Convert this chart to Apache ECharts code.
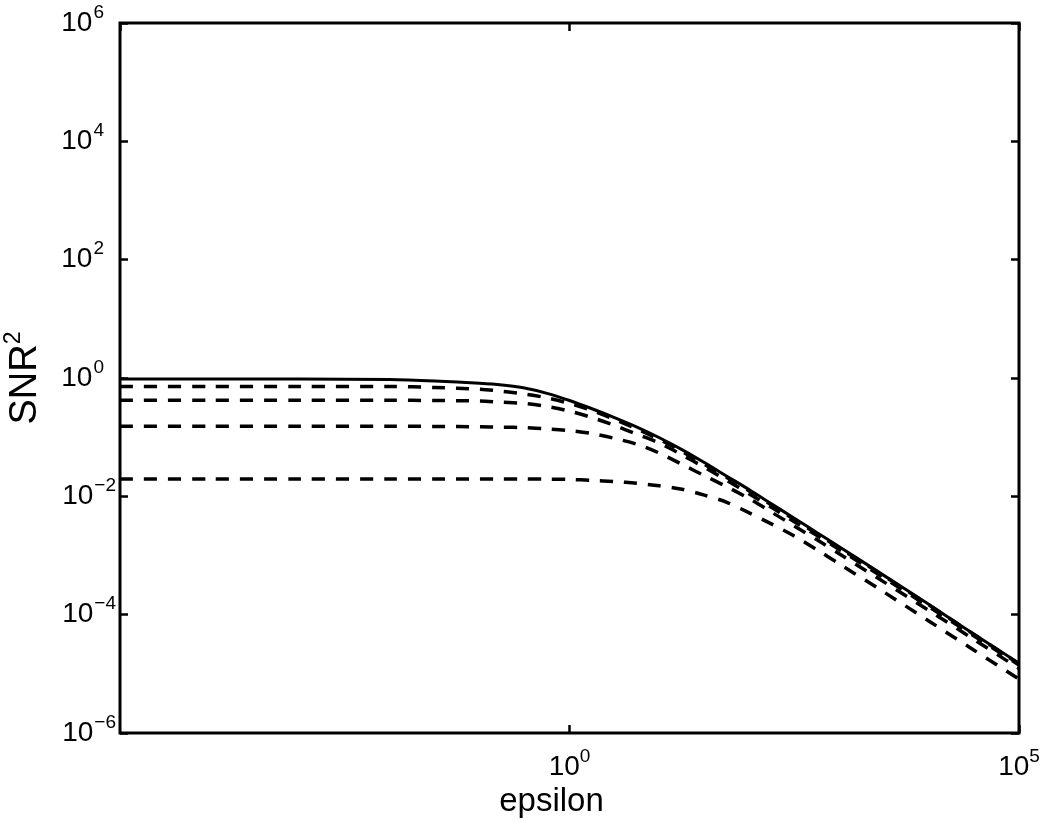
<!DOCTYPE html>
<html>
<head>
<meta charset="utf-8">
<script src="https://cdn.jsdelivr.net/npm/echarts@6/dist/echarts.min.js"></script>
<style>
html,body{margin:0;padding:0;background:#fff;}
#chart{width:1050px;height:823px;}
</style>
</head>
<body>
<div id="chart"></div>
<script>
// epsilon sample points (x)
const epsilon = [1e-5, 1e-4, 1e-3, 1e-2, 0.0316, 0.1, 0.178, 0.316, 0.562, 1, 1.78, 3.16, 5.62, 10, 17.8, 31.6, 56.2, 100, 178, 316, 562, 1000, 3162, 1e4, 31623, 1e5];
// SNR^2, solid curve
const snrSolid = [0.962, 0.962, 0.959, 0.944, 0.891, 0.813, 0.759, 0.676, 0.550, 0.417, 0.302, 0.214, 0.148, 0.0977, 0.0617, 0.0372, 0.0219, 0.0129, 0.00741, 0.00427, 0.00245, 0.00141, 4.57e-4, 1.48e-4, 4.68e-5, 1.51e-5];
// SNR^2, dashed curves (top to bottom)
const snrDash1 = [0.716, 0.716, 0.716, 0.716, 0.692, 0.646, 0.597, 0.537, 0.462, 0.372, 0.282, 0.200, 0.138, 0.0912, 0.0575, 0.0347, 0.0209, 0.0123, 0.00708, 0.00407, 0.00234, 0.00135, 4.47e-4, 1.45e-4, 4.62e-5, 1.48e-5];
const snrDash2 = [0.420, 0.420, 0.420, 0.420, 0.417, 0.407, 0.389, 0.372, 0.331, 0.275, 0.214, 0.158, 0.112, 0.0794, 0.0501, 0.0309, 0.0186, 0.0110, 0.00646, 0.00372, 0.00219, 0.00126, 4.17e-4, 1.35e-4, 4.37e-5, 1.41e-5];
const snrDash3 = [0.153, 0.153, 0.153, 0.153, 0.152, 0.150, 0.148, 0.145, 0.138, 0.129, 0.115, 0.0955, 0.0759, 0.0537, 0.0347, 0.0224, 0.0145, 0.00912, 0.00537, 0.00316, 0.00186, 0.00107, 3.55e-4, 1.17e-4, 3.80e-5, 1.23e-5];
const snrDash4 = [0.0197, 0.0197, 0.0197, 0.0197, 0.0197, 0.0197, 0.0196, 0.0196, 0.0195, 0.0193, 0.0186, 0.0178, 0.0166, 0.0151, 0.0132, 0.0105, 0.00794, 0.00525, 0.00339, 0.00214, 0.00126, 7.24e-4, 2.40e-4, 7.76e-5, 2.51e-5, 8.13e-6];
// axis ranges
const xRange = [1e-5, 1e5];
const yRange = [1e-6, 1e6];

const FONT = "'Liberation Sans', Arial, Helvetica, sans-serif";

function pairs(ys) { return epsilon.map((x, i) => [x, ys[i]]); }

function xPowLabel(v) {
  const e = Math.round(Math.log10(v));
  const t = e < 0 ? '\u2212' + (-e) : String(e);
  return '{b|10}{s|' + t + '}';
}
// y labels: keep the "10" right-aligned at the same place; positive exponents get extra right padding
function yPowLabel(v) {
  const e = Math.round(Math.log10(v));
  return e < 0 ? '{b|10}{n|\u2212' + (-e) + '}' : '{b|10}{p|' + e + '}';
}
const xTickRich = {
  b: { fontSize: 28, lineHeight: 40, fontFamily: FONT, color: '#000' },
  s: { fontSize: 19, lineHeight: 19, verticalAlign: 'top', fontFamily: FONT, color: '#000' }
};
const yTickRich = {
  b: { fontSize: 28, lineHeight: 40, fontFamily: FONT, color: '#000' },
  n: { fontSize: 19, lineHeight: 19, verticalAlign: 'top', padding: [0, 0, 0, 1], fontFamily: FONT, color: '#000' },
  p: { fontSize: 19, lineHeight: 19, verticalAlign: 'top', padding: [0, 12, 0, 1], fontFamily: FONT, color: '#000' }
};
const tickStyle = { show: true, inside: true, length: 8, lineStyle: { color: '#000', width: 2.5 } };

const chart = echarts.init(document.getElementById('chart'), null, { renderer: 'canvas' });

function dashSeries(data) {
  return {
    type: 'line', data: pairs(data), showSymbol: false, smooth: 0.3,
    lineStyle: { color: '#000', width: 3.5, type: [13, 11] }, z: 2
  };
}

chart.setOption({
  animation: false,
  backgroundColor: '#fff',
  grid: {
    left: 120, right: 31, top: 23, bottom: 90, show: true, borderColor: '#000', borderWidth: 3,
    containLabel: false, outerBoundsMode: 'none'
  },
  xAxis: [
    {
      type: 'log', logBase: 10, min: xRange[0], max: xRange[1], interval: 5,
      name: 'epsilon', nameLocation: 'middle', nameGap: 36,
      nameTextStyle: { fontSize: 33, fontFamily: FONT, color: '#000', padding: [0, 36, 0, 0] },
      axisLine: { show: false }, axisTick: tickStyle, splitLine: { show: false },
      axisLabel: { formatter: xPowLabel, rich: xTickRich, margin: 14, showMinLabel: false, showMaxLabel: true }
    },
    {
      type: 'log', logBase: 10, min: xRange[0], max: xRange[1], interval: 5, position: 'top',
      axisLine: { show: false }, axisTick: tickStyle, splitLine: { show: false }, axisLabel: { show: false }
    }
  ],
  yAxis: [
    {
      type: 'log', logBase: 10, min: yRange[0], max: yRange[1], interval: 2,
      name: '{n|SNR}{s|2}', nameLocation: 'middle', nameGap: 70,
      nameTextStyle: {
        rich: {
          n: { fontSize: 38, lineHeight: 48, fontFamily: FONT, color: '#000' },
          s: { fontSize: 23, lineHeight: 23, verticalAlign: 'top', fontFamily: FONT, color: '#000' }
        }
      },
      axisLine: { show: false }, axisTick: tickStyle, splitLine: { show: false },
      axisLabel: { formatter: yPowLabel, rich: yTickRich, margin: 4, showMinLabel: true, showMaxLabel: true }
    },
    {
      type: 'log', logBase: 10, min: yRange[0], max: yRange[1], interval: 2, position: 'right',
      axisLine: { show: false }, axisTick: tickStyle, splitLine: { show: false }, axisLabel: { show: false }
    }
  ],
  series: [
    dashSeries(snrDash1),
    dashSeries(snrDash2),
    dashSeries(snrDash3),
    dashSeries(snrDash4),
    {
      type: 'line', data: pairs(snrSolid), showSymbol: false, smooth: 0.3,
      lineStyle: { color: '#000', width: 3 }, z: 3
    }
  ]
});
</script>
</body>
</html>
